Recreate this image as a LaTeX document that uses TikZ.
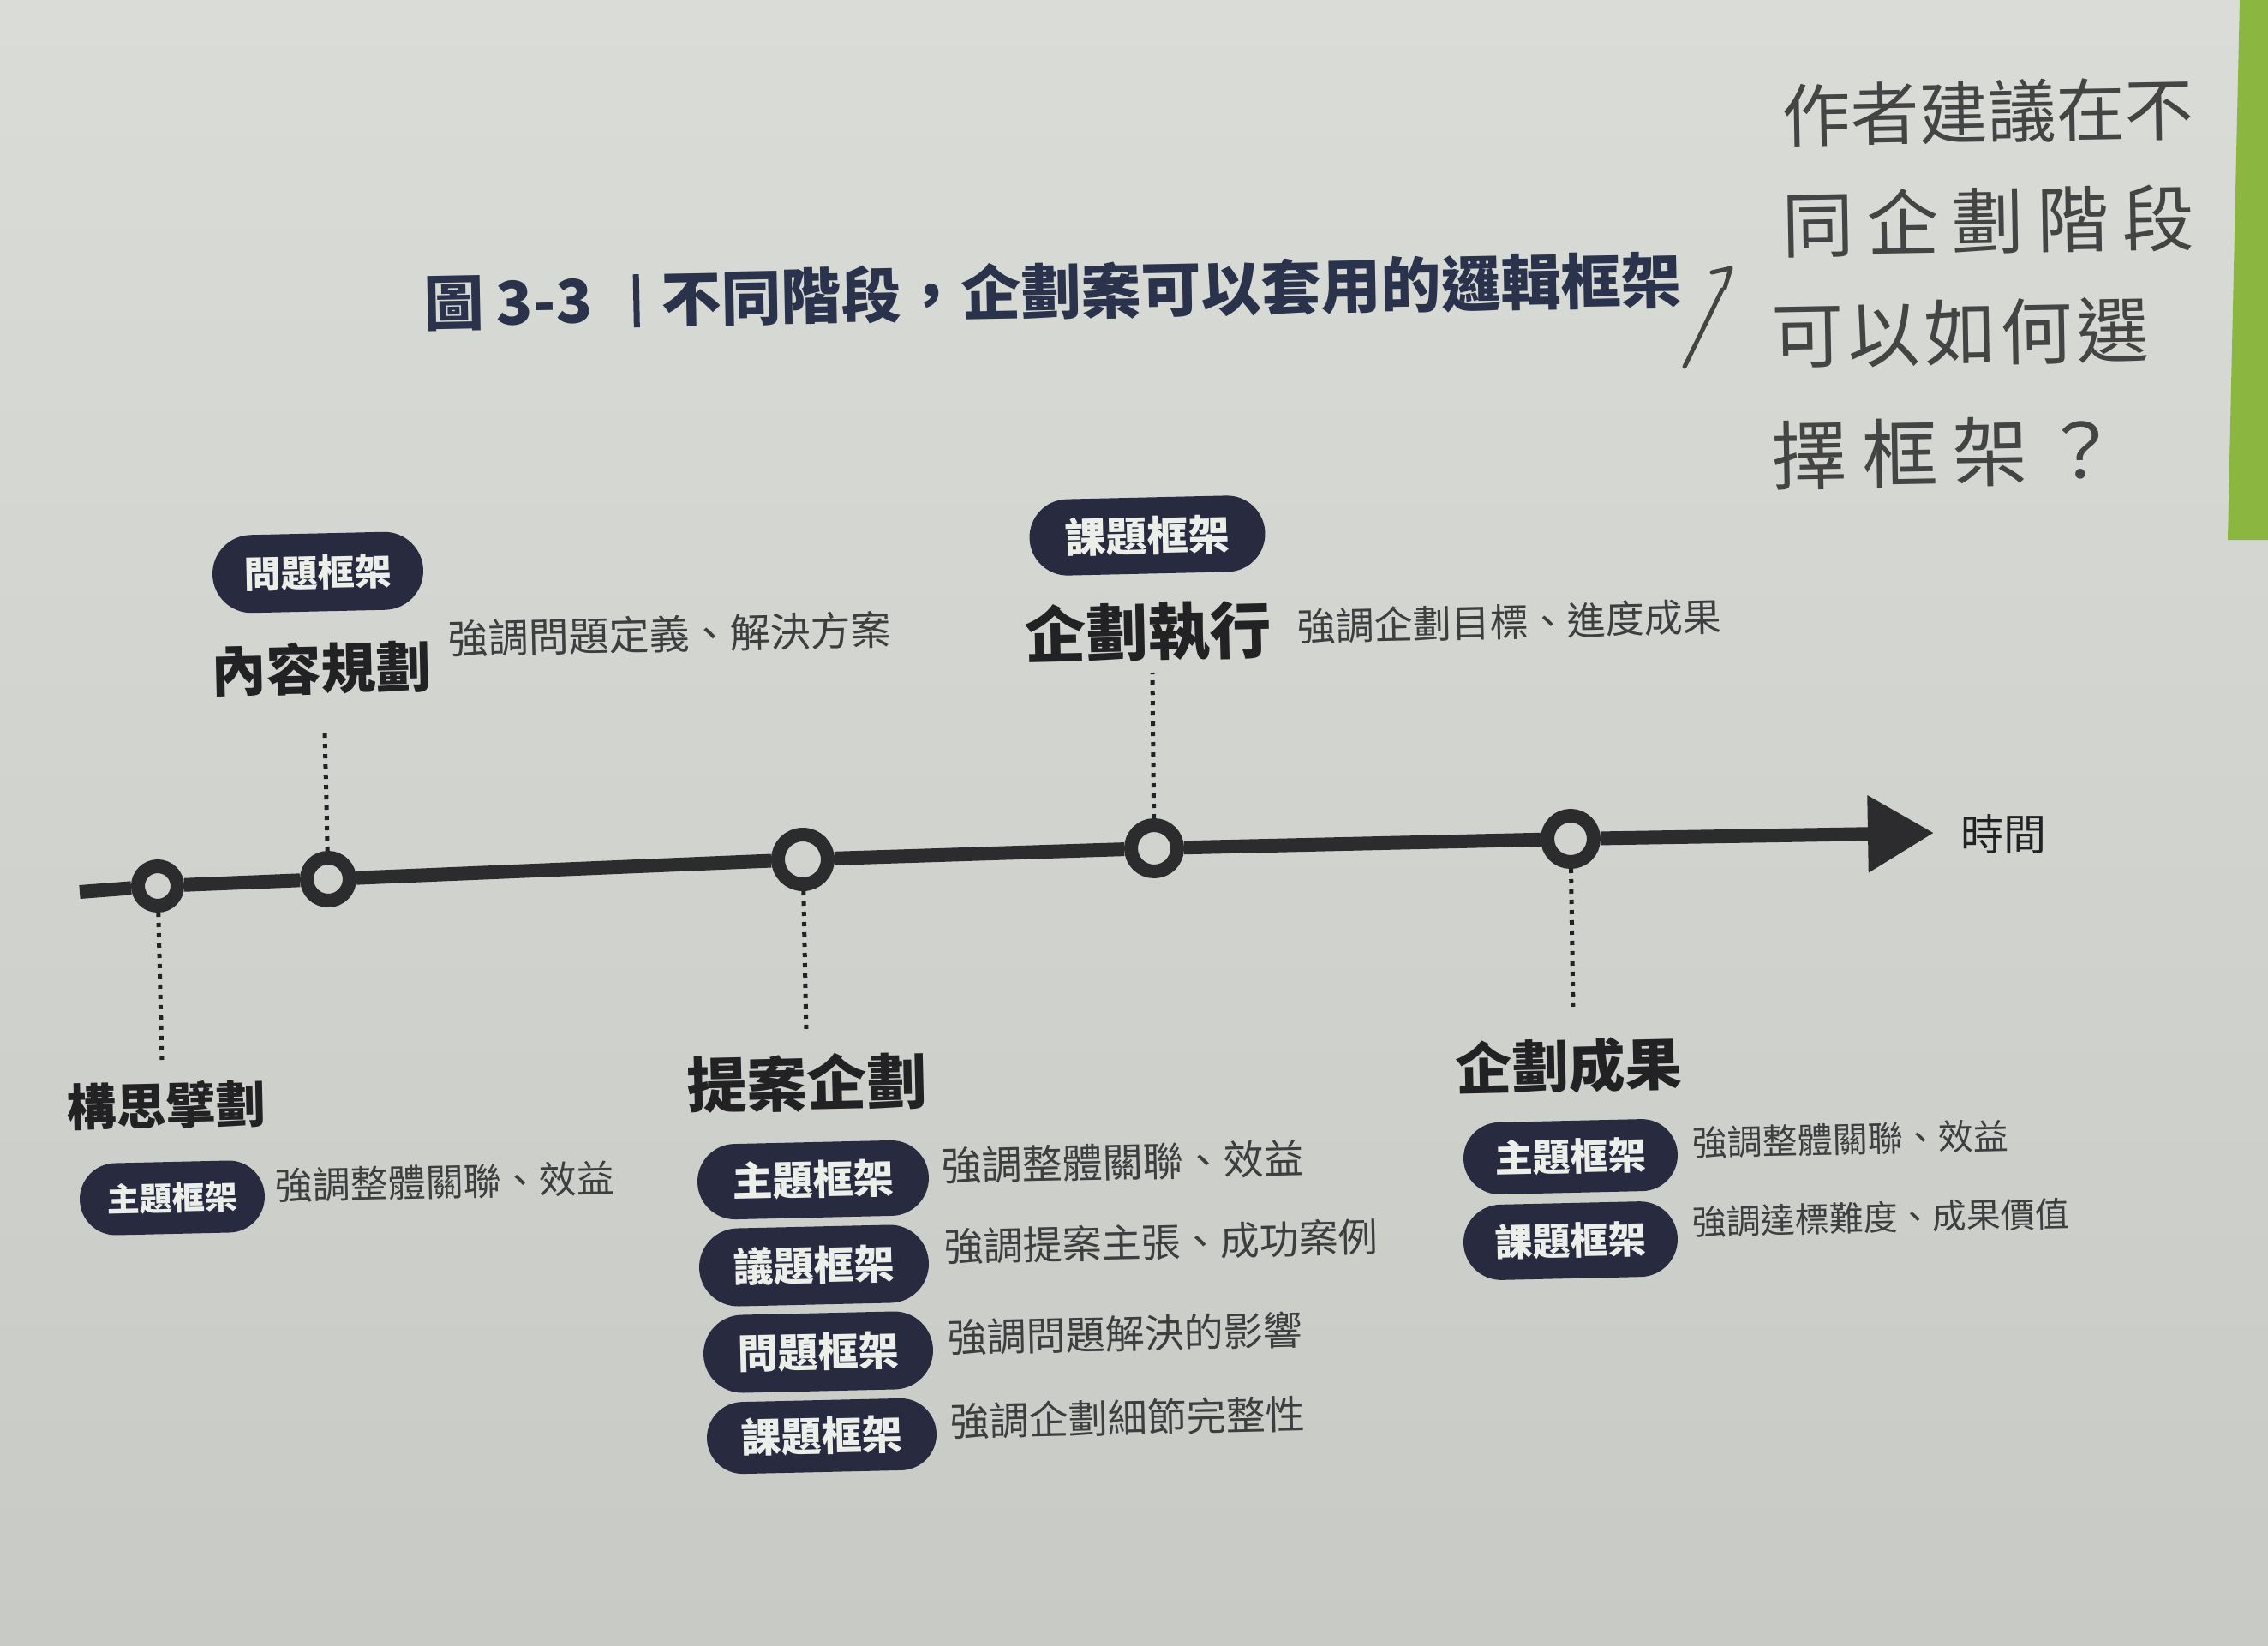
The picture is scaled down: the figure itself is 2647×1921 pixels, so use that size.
\documentclass[tikz,border=0pt]{standalone}
\usepackage{fontspec}
\setmainfont{Noto Sans CJK TC}
\usetikzlibrary{arrows.meta,shapes.misc}

\definecolor{papertop}{RGB}{217,220,215}
\definecolor{paperbot}{RGB}{199,202,197}
\definecolor{navy}{RGB}{40,42,64}
\definecolor{pilltext}{RGB}{236,238,234}
\definecolor{axisc}{RGB}{44,44,46}
\definecolor{ink}{RGB}{34,34,36}
\definecolor{grayink}{RGB}{62,62,64}
\definecolor{titleink}{RGB}{42,50,76}
\definecolor{pencil}{RGB}{68,68,68}
\definecolor{tabgreen}{RGB}{139,183,64}

\tikzset{
  ring/.style={circle, draw=axisc, line width=16pt, inner sep=0pt, minimum size=#1},
  axis/.style={draw=axisc, line width=16pt},
  dotline/.style={draw=ink, line width=5pt, dash pattern=on 5pt off 7pt},
  pill/.style n args={3}{rounded rectangle, fill=navy, text=pilltext, inner sep=0pt,
    minimum width=#1, minimum height=#2,
    font=\fontsize{#3}{#3}\selectfont\bfseries, rotate=1.3},
  head/.style={text=ink, inner sep=0pt, font=\fontsize{#1}{#1}\selectfont\bfseries, rotate=1.3},
  desc/.style={anchor=west, text=grayink, inner sep=0pt, font=\fontsize{#1}{#1}\selectfont, rotate=1.3},
  hand/.style={anchor=west, text=pencil, inner sep=0pt, rotate=1},
  pencilline/.style={draw=pencil, line width=5pt, line cap=round, line join=round}
}

\begin{document}
\begin{tikzpicture}[x=1pt, y=-1pt]
  % page
  \useasboundingbox (0,0) rectangle (2647,1921);
  \shade[top color=papertop, bottom color=paperbot] (0,0) rectangle (2647,1921);
  % green page tab
  \fill[tabgreen] (2614,0) -- (2647,0) -- (2647,630) -- (2600,630) -- cycle;

  % caption
  \node[anchor=west, inner sep=0pt, text=titleink, rotate=1.1,
        font=\fontsize{70}{76}\selectfont\bfseries] (title) at (495,354)
    {圖\hspace{14pt}3-3\hspace{48pt}\rule[-6pt]{7pt}{62pt}\hspace{26pt}不同階段，企劃案可以套用的邏輯框架};

  % pencil note
  \draw[pencilline] (1966,428) -- (2010,338);
  \draw[pencilline] (1998,318) -- (2020,313) -- (2013,336);
  \node[hand, font=\fontsize{80}{84}\selectfont] (n1) at (2080,135) {作者建議在不};
  \node[hand, font=\fontsize{84}{88}\selectfont\addfontfeatures{LetterSpace=18}] (n2) at (2080,262) {同企劃階段};
  \node[hand, font=\fontsize{84}{88}\selectfont\addfontfeatures{LetterSpace=6}] (n3) at (2068,392) {可以如何選};
  \node[hand, font=\fontsize{88}{92}\selectfont\addfontfeatures{LetterSpace=20}] (n4) at (2068,532) {擇框架？};

  % time axis
  \coordinate (t0) at (93,1041);
  \node[ring=46pt] (c1) at (184,1034) {};
  \node[ring=50pt] (c2) at (383,1026) {};
  \node[ring=58pt] (c3) at (937,1003) {};
  \node[ring=54pt] (c4) at (1347,990) {};
  \node[ring=54pt] (c5) at (1833,979) {};
  \coordinate (tip) at (2257,972);
  \draw[axis] (t0) -- (c1) -- (c2) -- (c3) -- (c4) -- (c5);
  \draw[axis, -{Triangle[length=77pt, width=86pt]}] (c5) -- (tip);
  \node[anchor=west, inner sep=0pt, text=ink, font=\fontsize{50}{50}\selectfont] (time) at (2288,973) {時間};

  % dotted leaders
  \coordinate (e1) at (189,1237);
  \coordinate (e2) at (379,852);
  \coordinate (e3) at (941,1203);
  \coordinate (e4) at (1345,785);
  \coordinate (e5) at (1836,1178);
  \draw[dotline] (c1) -- (e1);
  \draw[dotline] (c2) -- (e2);
  \draw[dotline] (c3) -- (e3);
  \draw[dotline] (c4) -- (e4);
  \draw[dotline] (c5) -- (e5);

  % stage 1
  \node[head=58] (h1) at (194,1290) {構思擘劃};
  \node[pill={216}{84}{38}] (p2) at (201,1398) {主題框架};
  \node[desc=44] (d1) at (321,1384) {強調整體關聯、效益};

  % stage 2
  \node[pill={246}{91}{43}] (p1) at (371,668) {問題框架};
  \node[head=64] (h2) at (375,780) {內容規劃};
  \node[desc=47] (d2) at (523,746) {強調問題定義、解決方案};

  % stage 3
  \node[head=70] (h3) at (942,1264) {提案企劃};
  \node[pill={270}{88}{47}] (p3) at (949,1377) {主題框架};
  \node[pill={268}{91}{47}] (p4) at (950,1477) {議題框架};
  \node[pill={268}{91}{47}] (p5) at (955,1578) {問題框架};
  \node[pill={268}{84}{47}] (p6) at (959,1676) {課題框架};
  \node[desc=47] (d3) at (1099,1361) {強調整體關聯、效益};
  \node[desc=46] (d4) at (1102,1455) {強調提案主張、成功案例};
  \node[desc=46] (d5) at (1106,1561) {強調問題解決的影響};
  \node[desc=46] (d6) at (1109,1659) {強調企劃細節完整性};

  % stage 4
  \node[pill={275}{89}{48}] (p7) at (1339,625) {課題框架};
  \node[head=72] (h4) at (1340,738) {企劃執行};
  \node[desc=45] (d7) at (1514,731) {強調企劃目標、進度成果};

  % stage 5
  \node[head=66] (h5) at (1831,1244) {企劃成果};
  \node[pill={250}{84}{44}] (p8) at (1833,1350) {主題框架};
  \node[pill={250}{88}{44}] (p9) at (1833,1448) {課題框架};
  \node[desc=41] (d8) at (1975,1334) {強調整體關聯、效益};
  \node[desc=40] (d9) at (1975,1426) {強調達標難度、成果價值};
\end{tikzpicture}
\end{document}
